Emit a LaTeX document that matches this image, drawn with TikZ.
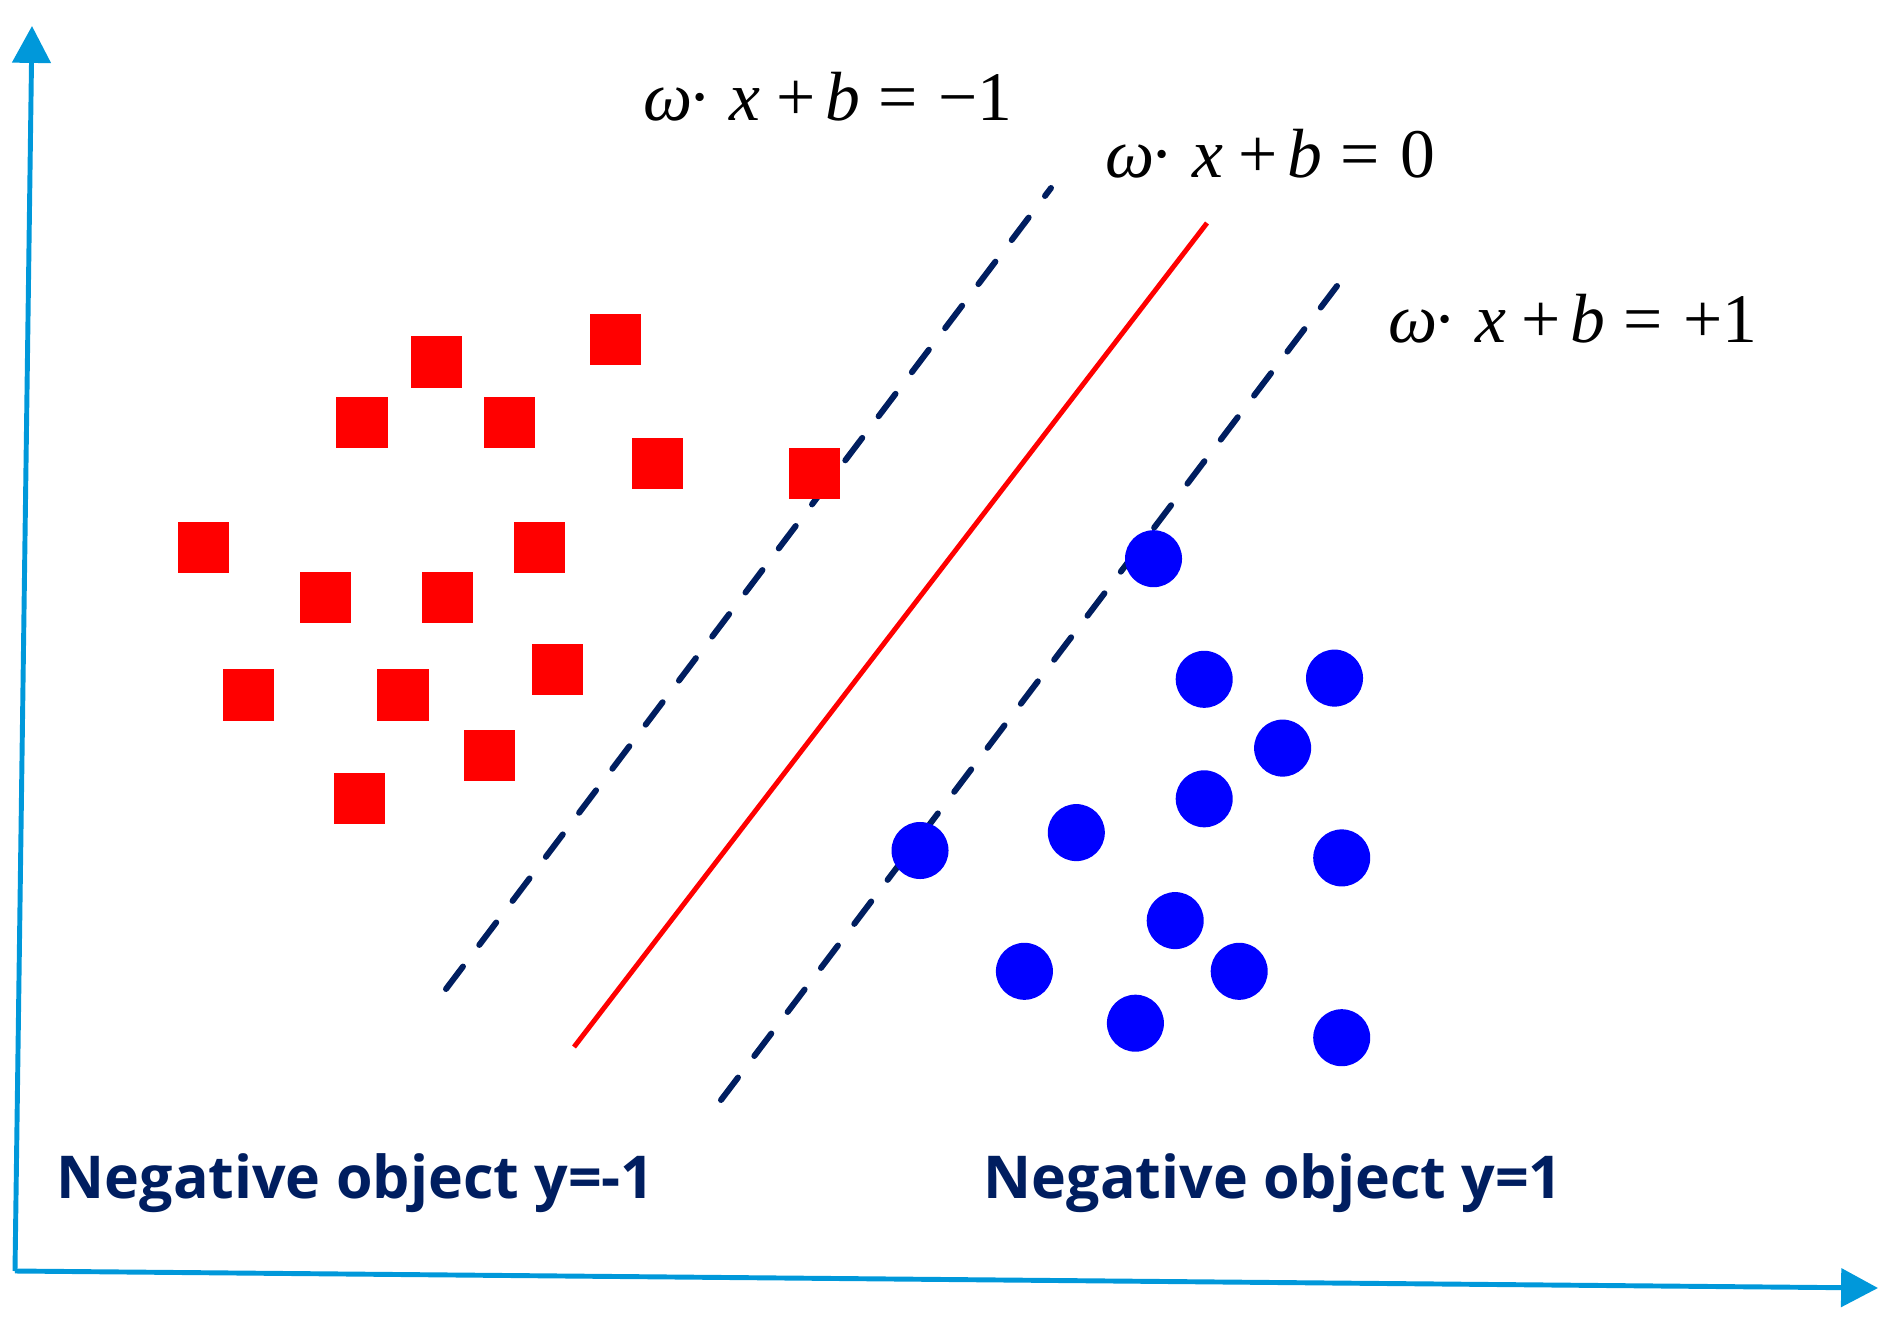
\documentclass[tikz,border=0pt]{standalone}
\usepackage{fontspec}
\setmainfont{Liberation Serif}
\newfontfamily\labelfont{Open Sans}
\usetikzlibrary{arrows.meta}
\usetikzlibrary{calc}

\definecolor{axisblue}{RGB}{0,152,218}
\definecolor{navy}{RGB}{0,30,96}
\definecolor{dotblue}{RGB}{0,0,255}

\newcommand{\hyperplane}[1]{{\itshape ω}\hspace{-0.06em}·\hspace{0.26em}{\itshape x}\hspace{0.22em}+\hspace{0.14em}{\itshape b}\hspace{0.26em}=\hspace{0.3em}#1}

\begin{document}
\begin{tikzpicture}[x=0.01cm, y=-0.01cm,
    redsq/.style={fill=red, minimum size=0.51cm, inner sep=0pt},
    bluept/.style={circle, fill=dotblue, minimum size=0.57cm, inner sep=0pt},
    margin/.style={navy, line width=1.7pt, line cap=round, dash pattern=on 8pt off 7.7pt},
    eqlabel/.style={anchor=base west, inner sep=0pt, font=\fontsize{19.8}{24}\selectfont},
    classlabel/.style={anchor=base west, inner sep=0pt, text=navy, font=\labelfont\bfseries\fontsize{16.8}{20}\selectfont}]
    \useasboundingbox (0,0) rectangle (1892,1328);

    % The axes
        \coordinate (O) at (15,1271);
        \coordinate (Ytip) at (32,26);
        \coordinate (Xtip) at (1878,1288);
        \draw[axisblue, line width=1.4pt, -{Triangle[length=10.5pt, width=10.8pt]}] (O) -- (Ytip);
        \draw[axisblue, line width=1.4pt, -{Triangle[length=10.5pt, width=10.8pt]}] (O) -- (Xtip);

    % The margins and the separating line
        \coordinate (A1) at (446,989);
        \coordinate (A2) at (1051,188);
        \coordinate (H1) at (574,1047);
        \coordinate (H2) at (1207,223);
        \coordinate (B1) at (721,1100);
        \coordinate (B2) at (1337,286);
        \draw[margin] (A1) -- (A2);
        \draw[red, line width=1.4pt] (H1) -- (H2);
        \draw[margin] (B1) -- (B2);

    % The class y = -1
        \node[redsq] (s1) at (436.8,362.0) {};
        \node[redsq] (s2) at (615.4,339.1) {};
        \node[redsq] (s3) at (362.0,422.3) {};
        \node[redsq] (s4) at (509.2,422.3) {};
        \node[redsq] (s5) at (657.6,463.3) {};
        \node[redsq] (s6) at (814.5,473.5) {};
        \node[redsq] (s7) at (203.9,547.8) {};
        \node[redsq] (s8) at (539.4,547.8) {};
        \node[redsq] (s9) at (325.8,597.3) {};
        \node[redsq] (s10) at (447.7,597.3) {};
        \node[redsq] (s11) at (557.5,669.7) {};
        \node[redsq] (s12) at (248.6,695.0) {};
        \node[redsq] (s13) at (403.0,695.0) {};
        \node[redsq] (s14) at (489.9,755.3) {};
        \node[redsq] (s15) at (359.6,798.8) {};

    % The class y = 1
        \node[bluept] (c1) at (1153.5,558.7) {};
        \node[bluept] (c2) at (1204.2,679.3) {};
        \node[bluept] (c3) at (1334.5,678.1) {};
        \node[bluept] (c4) at (1282.6,748.1) {};
        \node[bluept] (c5) at (1204.2,798.8) {};
        \node[bluept] (c6) at (1076.3,832.6) {};
        \node[bluept] (c7) at (920.0,850.5) {};
        \node[bluept] (c8) at (1341.7,857.9) {};
        \node[bluept] (c9) at (1175.2,920.6) {};
        \node[bluept] (c10) at (1024.4,971.3) {};
        \node[bluept] (c11) at (1239.2,971.3) {};
        \node[bluept] (c12) at (1135.4,1023.2) {};
        \node[bluept] (c13) at (1341.7,1037.7) {};

    % Labels
        \node[eqlabel] (eqneg) at (643,121) {\hyperplane{−1}};
        \node[eqlabel] (eqzero) at (1105,178) {\hyperplane{0}};
        \node[eqlabel] (eqpos) at (1388,343) {\hyperplane{+1}};
        \node[classlabel] (negleft) at (56,1198) {Negative object y=-1};
        \node[classlabel] (negright) at (983,1198) {Negative object y=1};
\end{tikzpicture}
\end{document}
